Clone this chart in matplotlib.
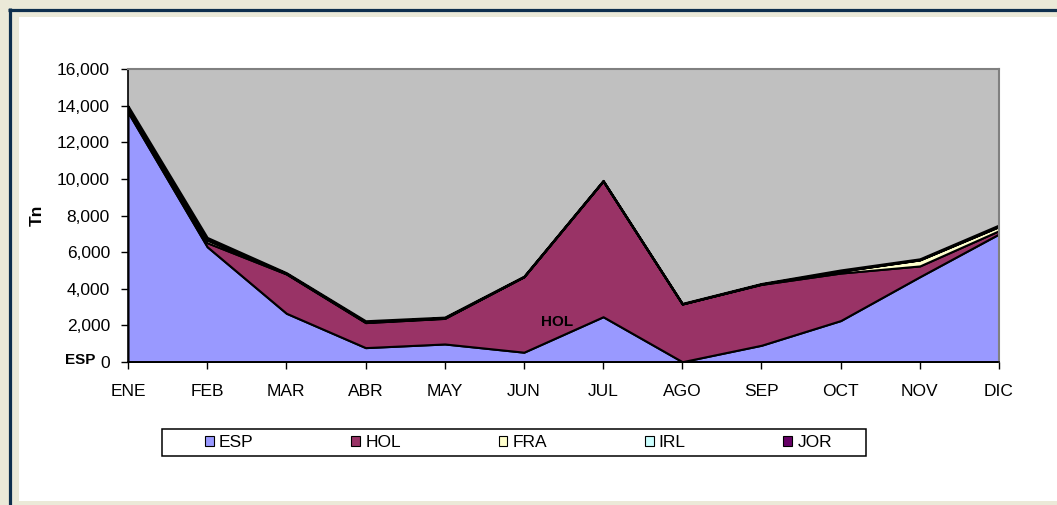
import matplotlib.pyplot as plt
from matplotlib.patches import Rectangle, Patch
from matplotlib.lines import Line2D
from matplotlib.ticker import FuncFormatter

plt.rcParams['font.family'] = ['Liberation Sans', 'DejaVu Sans']

# monthly tonnes by origin
months = ['ENE', 'FEB', 'MAR', 'ABR', 'MAY', 'JUN', 'JUL', 'AGO', 'SEP', 'OCT', 'NOV', 'DIC']
esp = [13650, 6290, 2650, 770, 970, 520, 2460, 0, 900, 2250, 4650, 6990]
hol = [150, 220, 2150, 1370, 1400, 4130, 7430, 3160, 3330, 2600, 590, 180]
fra = [50, 150, 20, 30, 20, 0, 0, 0, 20, 100, 330, 220]
irl = [20, 20, 10, 10, 10, 0, 0, 0, 0, 10, 10, 20]
jor = [130, 120, 40, 60, 40, 30, 30, 30, 30, 60, 50, 70]
names = ['ESP', 'HOL', 'FRA', 'IRL', 'JOR']
colors = ['#9999FF', '#993366', '#FFFFCC', '#CCFFFF', '#660066']

W, H = 1057, 505
fig = plt.figure(figsize=(W / 100, H / 100), dpi=100)
fig.patch.set_facecolor('#EBE9D8')

# white panel and navy frame lines
fig.patches.append(Rectangle((19 / W, 4 / H), 1 - 19 / W, 484 / H, transform=fig.transFigure,
                             facecolor='white', edgecolor='none', zorder=-2))
fig.add_artist(Line2D([8 / W, 1], [495.5 / H, 495.5 / H], transform=fig.transFigure,
                      color='#0E2F4E', lw=2.3, solid_capstyle='butt', zorder=-1))
fig.add_artist(Line2D([9.5 / W, 9.5 / W], [0, 497 / H], transform=fig.transFigure,
                      color='#0E2F4E', lw=2.3, solid_capstyle='butt', zorder=-1))

ax = fig.add_axes([128 / W, 143.3 / H, 871 / W, 292.4 / H])
ax.set_zorder(3)
ax.set_facecolor('#C0C0C0')
x = list(range(len(months)))
ax.stackplot(x, esp, hol, fra, irl, jor, colors=colors, edgecolor='black', linewidth=1.5)

ax.set_xlim(0, 11)
ax.set_ylim(0, 16000)
ax.set_xticks(x)
ax.set_xticklabels(months)
ax.set_yticks(range(0, 16001, 2000))
ax.yaxis.set_major_formatter(FuncFormatter(lambda v, p: f'{int(v):,}'))
ax.tick_params(axis='both', direction='out', length=5, width=1, colors='black', labelsize=12.5)
ax.tick_params(axis='y', pad=8)
ax.tick_params(axis='x', pad=11)

for s in ['left', 'bottom']:
    ax.spines[s].set_color('black')
    ax.spines[s].set_linewidth(1.2)
for s in ['top', 'right']:
    ax.spines[s].set_color('#808080')
    ax.spines[s].set_linewidth(1.5)

# series labels
ax.text(5.42, 2170, 'HOL', fontsize=11, fontweight='bold', ha='center', va='center')
ax.text(-0.61, 90, 'ESP', fontsize=11, fontweight='bold', ha='center', va='center', clip_on=False)
fig.text(37 / W, 290 / H, 'Tn', rotation=90, fontsize=12.5, fontweight='bold', ha='center', va='center')

# legend box
fig.patches.append(Rectangle((162 / W, 49 / H), 704 / W, 27 / H, transform=fig.transFigure,
                             facecolor='white', edgecolor='black', lw=1.1, zorder=1))
handles = [Patch(facecolor=c, edgecolor='black', lw=0.8) for c in colors]
fig.legend(handles, names, loc='center', bbox_to_anchor=(205 / W, 50 / H, 627 / W, 25 / H),
           ncol=5, mode='expand', frameon=False, fontsize=12.5, borderpad=0, borderaxespad=0,
           handlelength=0.5, handleheight=0.5, handletextpad=0.3)

plt.savefig('out.png', dpi=100, facecolor=fig.get_facecolor())
